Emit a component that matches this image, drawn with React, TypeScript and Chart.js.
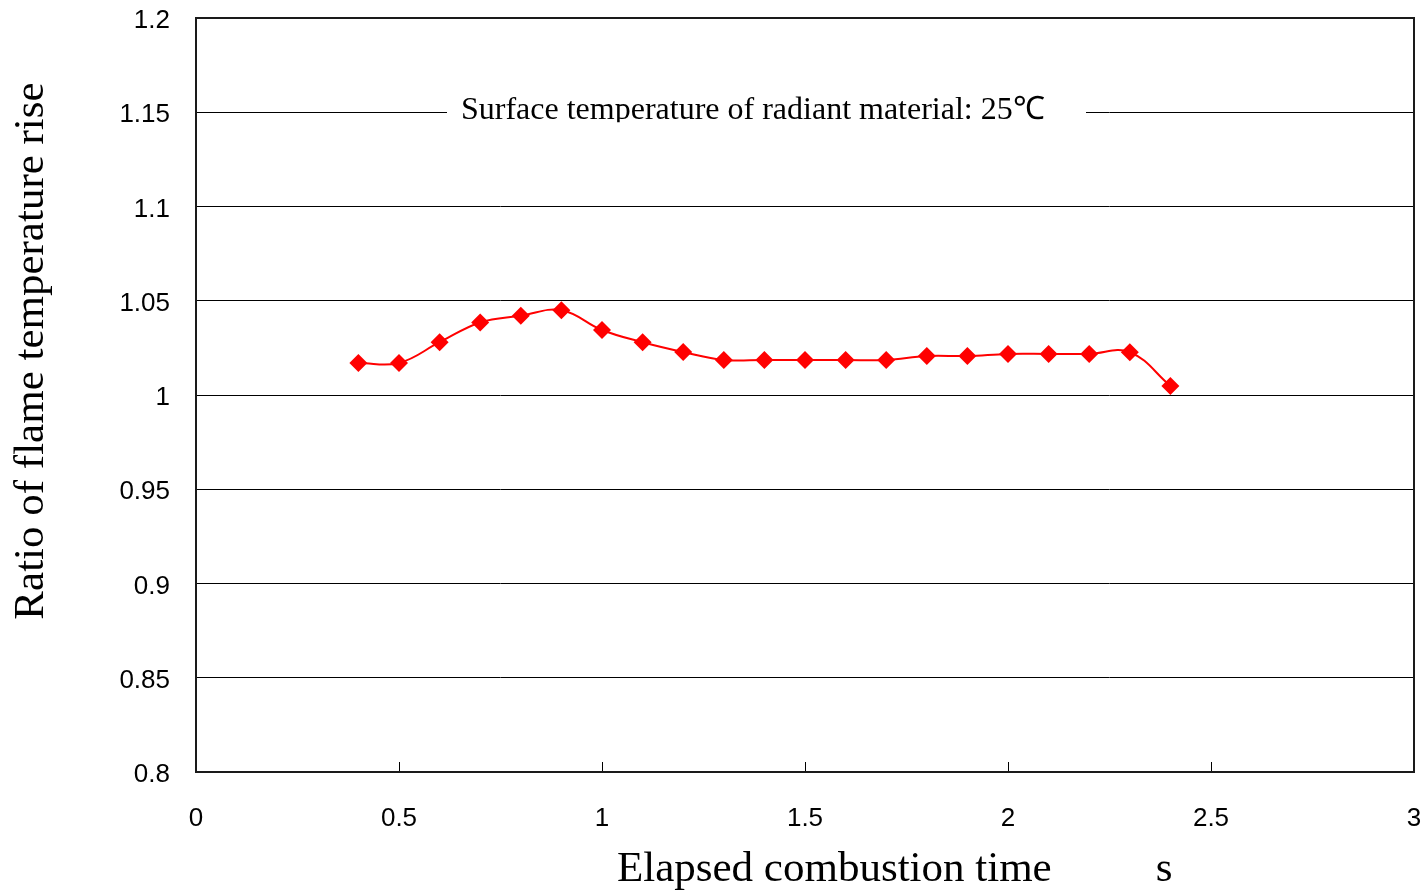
import React, { useEffect, useRef } from "react";
import { Chart, registerables } from "chart.js";

Chart.register(...registerables);

// Elapsed combustion time (s) and ratio of flame temperature rise
const elapsedTime = [0.4, 0.5, 0.6, 0.7, 0.8, 0.9, 1.0, 1.1, 1.2, 1.3, 1.4, 1.5, 1.6, 1.7, 1.8, 1.9, 2.0, 2.1, 2.2, 2.3, 2.4];
const riseRatio = [1.017, 1.017, 1.028, 1.0385, 1.042, 1.045, 1.0345, 1.028, 1.0228, 1.0186, 1.0186, 1.0186, 1.0186, 1.0186, 1.0207, 1.0207, 1.0218, 1.0218, 1.0218, 1.0227, 1.0048];

const xTicks = [0, 0.5, 1, 1.5, 2, 2.5, 3];
const yTickLabels = ["0.8", "0.85", "0.9", "0.95", "1", "1.05", "1.1", "1.15", "1.2"];

const xTitle = "Elapsed combustion time";
const xUnit = "s";
const yTitle = "Ratio of flame temperature rise";
const noteText = "Surface temperature of radiant material: 25\u2103";
const noteValue = 1.15;

const SERIF = '"Liberation Serif", "Times New Roman", serif';
const SANS = '"Liberation Sans", Arial, sans-serif';

const framePlugin = {
  id: "frameAndNotes",
  afterDraw(chart: any) {
    const { ctx, chartArea, scales } = chart;
    const xs = scales.x;
    const ys = scales.y;
    const { left, top, right, bottom } = chartArea;
    ctx.save();

    // note sitting on the 1.15 gridline
    const ny = ys.getPixelForValue(noteValue);
    ctx.fillStyle = "#ffffff";
    ctx.fillRect(left + 251, ny - 3, 639, 6);
    ctx.save();
    ctx.beginPath();
    ctx.rect(left + 250, ny - 28, 650, 38);
    ctx.clip();
    ctx.fillStyle = "#000000";
    ctx.font = `32px ${SERIF}`;
    ctx.textAlign = "left";
    ctx.textBaseline = "middle";
    ctx.fillText(noteText, left + 265, ny - 2);
    ctx.restore();

    // inward ticks on the bottom axis
    ctx.strokeStyle = "#000000";
    ctx.lineWidth = 1;
    for (const v of xTicks) {
      const px = Math.round(xs.getPixelForValue(v)) + 0.5;
      ctx.beginPath();
      ctx.moveTo(px, bottom);
      ctx.lineTo(px, bottom - 10);
      ctx.stroke();
    }

    // plot frame
    ctx.strokeStyle = "#1a1a1a";
    ctx.lineWidth = 2;
    ctx.strokeRect(left, top, right - left, bottom - top);

    // axis titles
    ctx.fillStyle = "#000000";
    ctx.font = `43px ${SERIF}`;
    ctx.textBaseline = "middle";
    ctx.textAlign = "left";
    ctx.fillText(xTitle, left + 421, bottom + 98);
    ctx.textAlign = "center";
    ctx.fillText(xUnit, left + 968, bottom + 98);

    ctx.save();
    ctx.translate(32, top + 333);
    ctx.rotate(-Math.PI / 2);
    ctx.textAlign = "center";
    ctx.fillText(yTitle, 0, 0);
    ctx.restore();

    ctx.restore();
  },
};

const noOverflowPadding = (s: any) => {
  s.paddingTop = 0;
  s.paddingBottom = 0;
  s.paddingLeft = 0;
  s.paddingRight = 0;
};

export default function App() {
  const canvasRef = useRef<HTMLCanvasElement | null>(null);

  useEffect(() => {
    if (!canvasRef.current) return;
    const points = elapsedTime.map((t, i) => ({ x: t, y: riseRatio[i] }));
    const chart = new Chart(canvasRef.current, {
      type: "line",
      data: {
        datasets: [
          {
            data: points,
            borderColor: "#ff0000",
            backgroundColor: "#ff0000",
            borderWidth: 2,
            tension: 0.4,
            pointStyle: "rectRot",
            pointRadius: 9,
            pointHoverRadius: 9,
            pointBorderWidth: 0,
          },
        ],
      },
      options: {
        animation: false,
        responsive: true,
        maintainAspectRatio: false,
        layout: { padding: { left: 0, top: 18, right: 14, bottom: 0 } },
        plugins: {
          legend: { display: false },
          tooltip: { enabled: false },
          title: { display: false },
        },
        scales: {
          x: {
            type: "linear",
            min: 0,
            max: 3,
            afterBuildTicks: (s: any) => {
              s.ticks = xTicks.map((v) => ({ value: v }));
            },
            afterFit: (s: any) => {
              s.height = 123;
              noOverflowPadding(s);
            },
            grid: { display: false, drawTicks: false },
            border: { display: false },
            ticks: {
              padding: 31,
              color: "#000000",
              font: { family: SANS, size: 26 },
              maxRotation: 0,
              callback: (v: any) => String(Number(Number(v).toFixed(2))),
            },
          },
          y: {
            type: "linear",
            min: 0.8,
            max: 1.2,
            afterBuildTicks: (s: any) => {
              s.ticks = yTickLabels.map((l) => ({ value: Number(l) }));
            },
            afterFit: (s: any) => {
              s.width = 196;
              noOverflowPadding(s);
            },
            grid: { color: "#000000", lineWidth: 1, drawTicks: false },
            border: { display: false },
            ticks: {
              padding: 26,
              labelOffset: 3,
              color: "#000000",
              font: { family: SANS, size: 26 },
              callback: (v: any) => String(Number(Number(v).toFixed(2))),
            },
          },
        },
      },
      plugins: [framePlugin],
    });
    return () => chart.destroy();
  }, []);

  return (
    <div style={{ position: "fixed", left: 0, top: 0, width: 1428, height: 895, background: "#ffffff" }}>
      <canvas ref={canvasRef} />
    </div>
  );
}
